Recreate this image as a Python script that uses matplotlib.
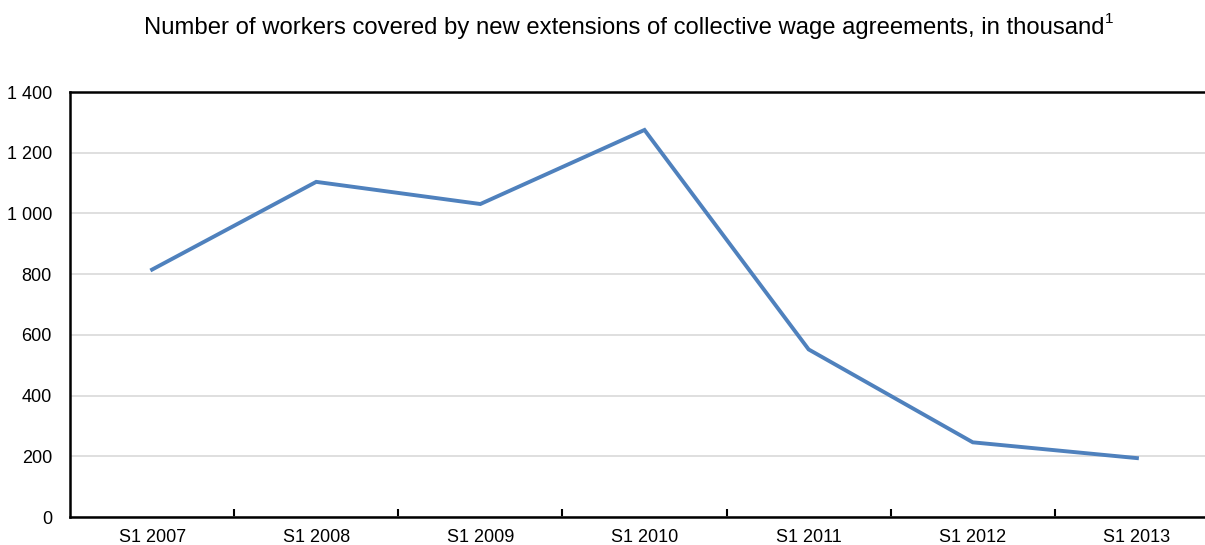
import matplotlib
matplotlib.use("Agg")
import matplotlib.pyplot as plt
from matplotlib.ticker import FuncFormatter

plt.rcParams["font.family"] = ["Liberation Sans", "DejaVu Sans"]

periods = ["S1 2007", "S1 2008", "S1 2009", "S1 2010", "S1 2011", "S1 2012", "S1 2013"]
workers = [815, 1104, 1031, 1275, 552, 246, 194]

fig = plt.figure(figsize=(12.05, 5.45), dpi=100)
# plot area runs a little past the right edge of the figure
ax = fig.add_axes([70 / 1205, 28 / 545, 1149 / 1205, 425 / 545])

x = list(range(len(periods)))
ax.plot(x, workers, color="#4F81BD", linewidth=2.8, solid_joinstyle="miter")

ax.set_xlim(-0.5, len(periods) - 0.5)
ax.set_ylim(0, 1400)
ax.set_yticks(range(0, 1401, 200))
ax.yaxis.set_major_formatter(FuncFormatter(lambda v, p: f"{int(v):,}".replace(",", " ")))
ax.grid(axis="y", color="#d9d9d9", linewidth=1.2)
ax.set_axisbelow(True)

# category labels centred, tick marks on the boundaries
ax.set_xticks(x)
ax.set_xticklabels(periods)
ax.set_xticks([i + 0.5 for i in x[:-1]], minor=True)
ax.tick_params(axis="x", which="major", length=0, labelsize=13, pad=9)
ax.tick_params(axis="x", which="minor", direction="in", length=6, width=1.5)
ax.tick_params(axis="y", length=0, labelsize=13, pad=13)

for side in ["left", "bottom", "top"]:
    ax.spines[side].set_linewidth(1.8)
ax.spines["right"].set_visible(False)

fig.text(0.518, 0.949, "Number of workers covered by new extensions of collective wage agreements, in thousand",
         ha="center", va="center", fontsize=17.2)
fig.text(1113 / 1205, 0.966, "1", ha="right", va="center", fontsize=11)

fig.savefig("out.png", dpi=100)
